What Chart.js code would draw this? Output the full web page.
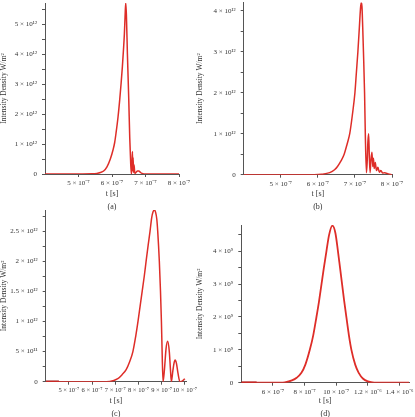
<!DOCTYPE html>
<html>
<head>
<meta charset="utf-8">
<script src="https://cdn.jsdelivr.net/npm/chart.js@4.4.0/dist/chart.umd.min.js"></script>
<style>
  html, body { margin: 0; padding: 0; background: #fff; overflow: hidden; }
  body { position: relative; width: 415px; height: 417px; }
  canvas { position: absolute; }
</style>
</head>
<body>
<canvas id="grafA" width="207" height="213" style="left:0;top:0"></canvas>
<canvas id="grafB" width="219" height="213" style="left:196px;top:0"></canvas>
<canvas id="grafC" width="207" height="213" style="left:0;top:207px"></canvas>
<canvas id="grafD" width="219" height="213" style="left:196px;top:207px"></canvas>
<script>
// (a)
const tempoA = [4.0e-7, 5.0e-7, 5.4e-7, 5.55e-7, 5.65e-7, 5.75e-7, 5.85e-7, 5.95e-7, 6.03e-7, 6.08e-7,
  6.12e-7, 6.18e-7, 6.23e-7, 6.27e-7, 6.31e-7, 6.34e-7, 6.37e-7, 6.39e-7, 6.41e-7, 6.43e-7,
  6.46e-7, 6.5e-7, 6.53e-7, 6.56e-7, 6.58e-7, 6.595e-7, 6.61e-7, 6.62e-7, 6.63e-7, 6.645e-7,
  6.66e-7, 6.68e-7, 6.72e-7, 6.76e-7, 6.8e-7, 6.85e-7, 6.9e-7, 7.0e-7, 8.0e-7];
const intensA = [0, 0, 0.005e12, 0.02e12, 0.05e12, 0.1e12, 0.24e12, 0.5e12, 0.8e12, 1.05e12,
  1.36e12, 1.9e12, 2.47e12, 3.0e12, 3.58e12, 4.1e12, 4.68e12, 5.24e12, 5.7e12, 5.3e12,
  4.0e12, 2.5e12, 1.2e12, 0.3e12, 0, 0.3e12, 0.75e12, 0.1e12, 0.55e12, 0.05e12,
  0.3e12, 0.02e12, 0.06e12, 0.1e12, 0.1e12, 0.05e12, 0.02e12, 0, 0];
const xTicksA = [5e-7, 6e-7, 7e-7, 8e-7];
const xLabelsA = ["5 × 10⁻⁷", "6 × 10⁻⁷", "7 × 10⁻⁷", "8 × 10⁻⁷"];
const yTicksA = [0, 0.5e12, 1e12, 1.5e12, 2e12, 2.5e12, 3e12, 3.5e12, 4e12, 4.5e12, 5e12, 5.5e12];
const yLabelsA = ["0", "", "1 × 10¹²", "", "2 × 10¹²", "", "3 × 10¹²", "", "4 × 10¹²", "", "5 × 10¹²", ""];

// (b)
const tempoB = [4.0e-7, 5.9e-7, 6.1e-7, 6.32e-7, 6.45e-7, 6.53e-7, 6.62e-7, 6.71e-7, 6.79e-7, 6.86e-7,
  6.93e-7, 7.0e-7, 7.04e-7, 7.08e-7, 7.12e-7, 7.15e-7, 7.17e-7, 7.19e-7, 7.21e-7, 7.23e-7,
  7.26e-7, 7.28e-7, 7.31e-7, 7.33e-7, 7.35e-7, 7.37e-7, 7.39e-7, 7.41e-7, 7.43e-7, 7.46e-7,
  7.48e-7, 7.5e-7, 7.52e-7, 7.55e-7, 7.58e-7, 7.62e-7, 7.66e-7, 7.7e-7, 7.75e-7, 7.8e-7,
  7.9e-7, 8.0e-7];
const intensB = [0, 0, 0.01e12, 0.05e12, 0.12e12, 0.2e12, 0.33e12, 0.5e12, 0.75e12, 1.0e12,
  1.45e12, 2.0e12, 2.5e12, 3.0e12, 3.6e12, 4.05e12, 4.2e12, 4.1e12, 3.6e12, 3.0e12,
  2.0e12, 1.0e12, 0.05e12, 0.3e12, 0.8e12, 1.0e12, 0.4e12, 0.05e12, 0.35e12, 0.55e12,
  0.2e12, 0.4e12, 0.15e12, 0.3e12, 0.1e12, 0.18e12, 0.06e12, 0.1e12, 0.04e12, 0.05e12,
  0.02e12, 0];
const xTicksB = [5e-7, 6e-7, 7e-7, 8e-7];
const xLabelsB = ["5 × 10⁻⁷", "6 × 10⁻⁷", "7 × 10⁻⁷", "8 × 10⁻⁷"];
const yTicksB = [0, 0.5e12, 1e12, 1.5e12, 2e12, 2.5e12, 3e12, 3.5e12, 4e12];
const yLabelsB = ["0", "", "1 × 10¹²", "", "2 × 10¹²", "", "3 × 10¹²", "", "4 × 10¹²"];

// (c)
const tempoC = [4.0e-7, 6.0e-7, 6.76e-7, 7.11e-7, 7.3e-7, 7.47e-7, 7.62e-7, 7.76e-7, 7.88e-7, 7.98e-7,
  8.07e-7, 8.16e-7, 8.25e-7, 8.33e-7, 8.42e-7, 8.5e-7, 8.57e-7, 8.63e-7, 8.69e-7, 8.74e-7, 8.79e-7,
  8.83e-7, 8.9e-7, 8.95e-7, 8.99e-7, 9.02e-7, 9.06e-7, 9.12e-7, 9.19e-7, 9.26e-7, 9.33e-7, 9.38e-7,
  9.42e-7, 9.48e-7, 9.53e-7, 9.58e-7, 9.64e-7, 9.7e-7, 9.79e-7, 9.88e-7, 9.95e-7, 10.0e-7];
const intensC = [0, 0, 0.005e12, 0.05e12, 0.12e12, 0.2e12, 0.33e12, 0.5e12, 0.75e12, 1.0e12,
  1.25e12, 1.5e12, 1.75e12, 2.0e12, 2.27e12, 2.5e12, 2.72e12, 2.82e12, 2.85e12, 2.81e12, 2.7e12,
  2.5e12, 2.0e12, 1.5e12, 1.0e12, 0.5e12, 0, 0.2e12, 0.55e12, 0.67e12, 0.5e12, 0.2e12,
  0, 0.17e12, 0.3e12, 0.36e12, 0.3e12, 0.15e12, 0, 0.01e12, 0.03e12, 0.05e12];
const xTicksC = [5e-7, 6e-7, 7e-7, 8e-7, 9e-7, 10e-7];
const xLabelsC = ["5 × 10⁻⁷", "6 × 10⁻⁷", "7 × 10⁻⁷", "8 × 10⁻⁷", "9 × 10⁻⁷", "10 × 10⁻⁷"];
const yTicksC = [0, 0.25e12, 0.5e12, 0.75e12, 1e12, 1.25e12, 1.5e12, 1.75e12, 2e12, 2.25e12, 2.5e12, 2.75e12];
const yLabelsC = ["0", "", "5 × 10¹¹", "", "1 × 10¹²", "", "1.5 × 10¹²", "", "2 × 10¹²", "", "2.5 × 10¹²", ""];

// (d)
const tempoD = [4.0e-7, 6.5e-7, 6.75e-7, 7.2e-7, 7.5e-7, 7.8e-7, 8.05e-7, 8.33e-7, 8.55e-7, 8.75e-7,
  8.92e-7, 9.07e-7, 9.22e-7, 9.38e-7, 9.55e-7, 9.76e-7, 9.95e-7, 10.11e-7, 10.24e-7, 10.37e-7,
  10.5e-7, 10.64e-7, 10.8e-7, 10.96e-7, 11.2e-7, 11.42e-7, 11.7e-7, 12.0e-7, 12.4e-7, 14.6e-7];
const intensD = [0, 0, 0.01e9, 0.07e9, 0.15e9, 0.3e9, 0.55e9, 1.0e9, 1.45e9, 2.0e9,
  2.5e9, 3.0e9, 3.5e9, 4.0e9, 4.5e9, 4.78e9, 4.55e9, 4.0e9, 3.5e9, 3.0e9,
  2.5e9, 2.0e9, 1.45e9, 1.0e9, 0.55e9, 0.3e9, 0.12e9, 0.04e9, 0.005e9, 0];
const xTicksD = [6e-7, 8e-7, 10e-7, 1.2e-6, 1.4e-6];
const xLabelsD = ["6 × 10⁻⁷", "8 × 10⁻⁷", "10 × 10⁻⁷", "1.2 × 10⁻⁶", "1.4 × 10⁻⁶"];
const yTicksD = [0, 0.5e9, 1e9, 1.5e9, 2e9, 2.5e9, 3e9, 3.5e9, 4e9, 4.5e9];
const yLabelsD = ["0", "", "1 × 10⁹", "", "2 × 10⁹", "", "3 × 10⁹", "", "4 × 10⁹", ""];

// pequeno trecho escuro no início de (c) e (d)
const trechoC = [4.0e-7, 4.57e-7];
const trechoD = [4.0e-7, 4.97e-7];

const fonte = "'Liberation Serif', 'Times New Roman', serif";
const corLinha = "rgb(222, 45, 40)";
const corEixo = "#555";

function montarGrafico(id, tempo, intens, xTicks, xLabels, yTicks, yLabels, cfg) {
  const datasets = [{
    data: tempo.map((t, i) => ({ x: t, y: intens[i] })),
    borderColor: corLinha,
    borderWidth: cfg.espessura || 1.5,
    pointRadius: 0,
    cubicInterpolationMode: "monotone",
    fill: false,
  }];
  if (cfg.trecho) {
    datasets.push({
      data: cfg.trecho.map((t) => ({ x: t, y: 0 })),
      borderColor: "#9a1010",
      borderWidth: 2.2,
      pointRadius: 0,
      fill: false,
    });
  }

  const escalaComum = {
    border: { display: true, color: corEixo, width: 1 },
    grid: { display: true, drawOnChartArea: false, drawTicks: true, tickLength: 3, color: corEixo },
  };

  // zera o padding automático dos rótulos para a área do gráfico ficar onde pedimos
  const semPadding = (s) => {
    s.paddingTop = 0;
    s.paddingBottom = 0;
    s.paddingLeft = 0;
    s.paddingRight = 0;
  };

  return new Chart(document.getElementById(id), {
    type: "line",
    data: { datasets: datasets },
    options: {
      responsive: false,
      animation: false,
      devicePixelRatio: 1,
      layout: { padding: { left: 0, right: cfg.dir, top: cfg.topo, bottom: 0 } },
      plugins: { legend: { display: false }, tooltip: { enabled: false } },
      scales: {
        x: {
          ...escalaComum,
          type: "linear",
          min: cfg.xMin,
          max: cfg.xMax,
          afterBuildTicks: (s) => { s.ticks = xTicks.map((v) => ({ value: v })); },
          afterFit: (s) => { s.height = cfg.alturaX; semPadding(s); },
          ticks: {
            autoSkip: false,
            maxRotation: 0,
            padding: 2,
            color: "#333",
            font: { family: fonte, size: cfg.fonteX || 7 },
            callback: (v, i) => xLabels[i],
          },
          title: {
            display: true,
            text: ["t [s]", cfg.rotulo],
            color: "#333",
            padding: 0,
            font: { family: fonte, size: 8, lineHeight: 1.55 },
          },
        },
        y: {
          ...escalaComum,
          min: 0,
          max: cfg.yMax,
          afterBuildTicks: (s) => { s.ticks = yTicks.map((v) => ({ value: v })); },
          afterFit: (s) => { s.width = cfg.larguraY; semPadding(s); },
          ticks: {
            autoSkip: false,
            padding: 5,
            color: "#333",
            font: { family: fonte, size: 7 },
            callback: (v, i) => yLabels[i],
          },
          title: {
            display: true,
            text: "Intensity Density W/m²",
            color: "#333",
            padding: 0,
            font: { family: fonte, size: 7.5 },
          },
        },
      },
    },
  });
}

montarGrafico("grafA", tempoA, intensA, xTicksA, xLabelsA, yTicksA, yLabelsA,
  { rotulo: "(a)", xMin: 4e-7, xMax: 8e-7, yMax: 5.7e12, larguraY: 45, dir: 28, topo: 3, alturaX: 39 });
montarGrafico("grafB", tempoB, intensB, xTicksB, xLabelsB, yTicksB, yLabelsB,
  { rotulo: "(b)", xMin: 4e-7, xMax: 8e-7, yMax: 4.2e12, larguraY: 47.7, dir: 23, topo: 2.5, alturaX: 38.3 });
montarGrafico("grafC", tempoC, intensC, xTicksC, xLabelsC, yTicksC, yLabelsC,
  { rotulo: "(c)", xMin: 4e-7, xMax: 10.05e-7, yMax: 2.85e12, larguraY: 45.7, dir: 21, topo: 3, alturaX: 38.3, fonteX: 6.5, trecho: trechoC });
montarGrafico("grafD", tempoD, intensD, xTicksD, xLabelsD, yTicksD, yLabelsD,
  { rotulo: "(d)", xMin: 4e-7, xMax: 1.46e-6, yMax: 4.8e9, larguraY: 45.3, dir: 6, topo: 18, alturaX: 37.3, espessura: 1.8, trecho: trechoD });
</script>
</body>
</html>
